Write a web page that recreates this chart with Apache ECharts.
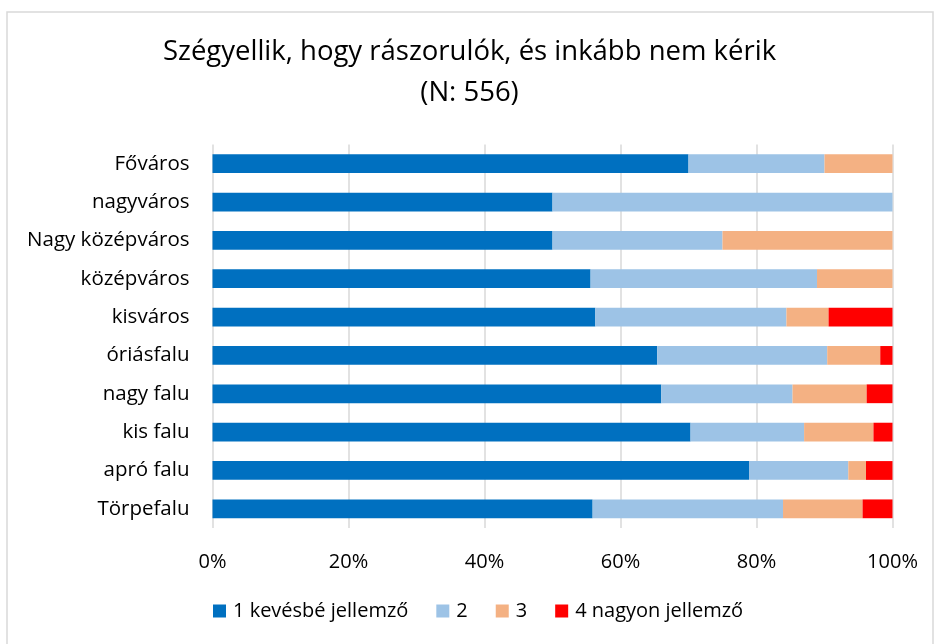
<!DOCTYPE html>
<html>
<head>
<meta charset="utf-8">
<script src="https://cdn.jsdelivr.net/npm/echarts@6/dist/echarts.min.js"></script>
<style>
  html, body { margin: 0; padding: 0; background: #fff; }
  #chart { width: 939px; height: 644px; }
</style>
</head>
<body>
<div id="chart"></div>
<script>
// Település-kategóriák (felülről lefelé)
const categories = ['Főváros', 'nagyváros', 'Nagy középváros', 'középváros', 'kisváros',
  'óriásfalu', 'nagy falu', 'kis falu', 'apró falu', 'Törpefalu'];

// Válaszmegoszlás, százalék
const level1 = [70.0, 50.0, 50.0, 55.6, 56.3, 65.4, 66.0, 70.3, 78.9, 55.9];
const level2 = [20.0, 50.0, 25.0, 33.3, 28.1, 25.0, 19.3, 16.7, 14.6, 28.0];
const level3 = [10.0, 0.0, 25.0, 11.1, 6.2, 7.8, 10.9, 10.2, 2.6, 11.7];
const level4 = [0.0, 0.0, 0.0, 0.0, 9.4, 1.8, 3.8, 2.8, 3.9, 4.4];

const seriesNames = ['1 kevésbé jellemző', '2', '3', '4 nagyon jellemző'];
const seriesColors = ['#0070C0', '#9DC3E6', '#F4B183', '#FF0000'];
const xTicks = [0, 20, 40, 60, 80, 100];

const FONT = '"Open Sans", "Noto Sans", sans-serif';

const chart = echarts.init(document.getElementById('chart'), null, { renderer: 'canvas' });

const makeSeries = (name, data, color) => ({
  name: name,
  type: 'bar',
  stack: 'total',
  barCategoryGap: '51%',
  itemStyle: { color: color },
  emphasis: { disabled: true },
  data: data
});

chart.setOption({
  animation: false,
  backgroundColor: '#fff',
  graphic: [{
    type: 'rect',
    shape: { x: 7, y: 12, width: 926, height: 650 },
    style: { fill: 'none', stroke: '#d9d9d9', lineWidth: 1.5 },
    silent: true,
    z: -1
  }],
  title: {
    text: 'Szégyellik, hogy rászorulók, és inkább nem kérik\n(N: 556)',
    left: 'center',
    top: 27,
    textStyle: {
      fontFamily: FONT,
      fontSize: 27.5,
      fontWeight: 'normal',
      color: '#000',
      lineHeight: 41,
      align: 'center'
    }
  },
  legend: {
    data: seriesNames,
    bottom: 18,
    left: 208,
    itemWidth: 13,
    itemHeight: 13,
    itemGap: 28,
    icon: 'rect',
    textStyle: { fontFamily: FONT, fontSize: 20, color: '#000', padding: [0, 0, 0, 2] }
  },
  grid: {
    left: 212.5,
    right: 46.5,
    top: 144.5,
    bottom: 116
  },
  xAxis: {
    type: 'value',
    min: xTicks[0],
    max: xTicks[xTicks.length - 1],
    interval: 20,
    axisLine: { show: false },
    axisTick: { show: false },
    splitLine: { lineStyle: { color: '#d9d9d9', width: 1.5 } },
    axisLabel: {
      formatter: '{value}%',
      margin: 24,
      fontFamily: FONT,
      fontSize: 20,
      color: '#000'
    }
  },
  yAxis: {
    type: 'category',
    inverse: true,
    data: categories,
    axisLine: { show: false },
    axisTick: { show: false },
    splitLine: { show: false },
    axisLabel: {
      margin: 23,
      fontFamily: FONT,
      fontSize: 20.5,
      color: '#000'
    }
  },
  series: [
    makeSeries(seriesNames[0], level1, seriesColors[0]),
    makeSeries(seriesNames[1], level2, seriesColors[1]),
    makeSeries(seriesNames[2], level3, seriesColors[2]),
    makeSeries(seriesNames[3], level4, seriesColors[3])
  ]
});
</script>
</body>
</html>
